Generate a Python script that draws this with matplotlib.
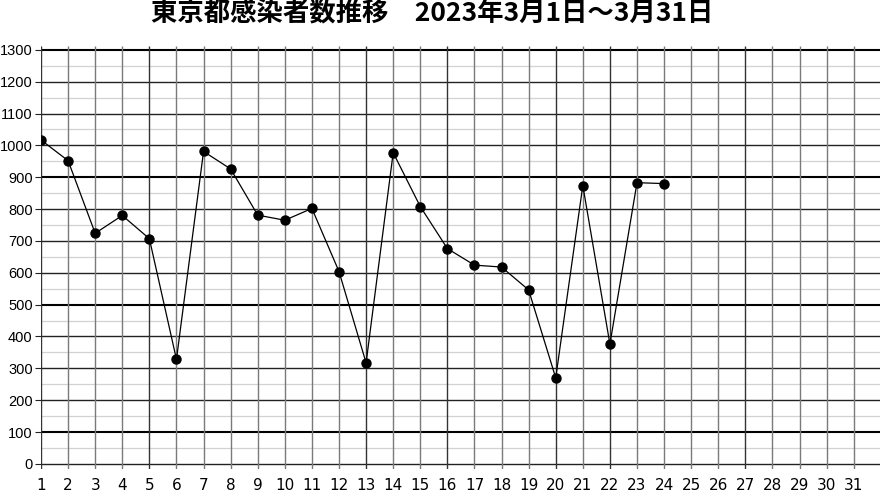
import numpy as np
import matplotlib
matplotlib.use("Agg")
import matplotlib.pyplot as plt

plt.rcParams['font.family'] = ['Noto Sans CJK JP', 'DejaVu Sans']

title = "東京都感染者数推移　2023年3月1日～3月31日"
days = list(range(1, 32))
day_labels = [str(d) for d in days]
obs_days = list(range(1, 25))
cases = [1017, 952, 724, 780, 707, 328, 981, 926, 781, 765, 802, 604,
         317, 977, 808, 676, 624, 618, 546, 270, 874, 376, 883, 880]
y_ticks = list(range(0, 1301, 100))

fig = plt.figure(figsize=(8.8, 4.95), dpi=100)
ax = fig.add_axes([0.0466, 0.052, 0.9534, 0.855])
ax.set_xlim(1, 31.97)
ax.set_ylim(-17, 1312)

#graph paper: horizontal lines
for v in range(0, 1301, 50):
    if v % 100:
        ax.hlines(v, 1, 32, color="#d2d2d2", lw=0.9, zorder=1)
    elif v % 400 == 100:
        ax.hlines(v, 1, 32, color="black", lw=1.5, zorder=1)
    else:
        ax.hlines(v, 1, 32, color="#222222", lw=1.0, zorder=1)

#vertical lines
dark = {1, 5, 13, 16, 20, 22, 27}
for d in days:
    c = "#333333" if d in dark else "#7a7a7a"
    ax.vlines(d, -17, 1312, color=c, lw=1.0, zorder=1)

ax.plot(obs_days, cases, color="black", lw=0.9, marker="o", ms=6.5, zorder=3)

for s in ax.spines.values():
    s.set_visible(False)
ax.set_yticks(y_ticks)
ax.set_yticklabels([str(v) for v in y_ticks], fontsize=10.5, family=["Liberation Sans", "DejaVu Sans"])
ax.tick_params(axis="y", length=4, pad=2, color="#222222")
ax.set_xticks(days)
ax.set_xticklabels(day_labels, fontsize=11, family=["Liberation Sans Narrow", "DejaVu Sans"])
ax.tick_params(axis="x", length=0, pad=6)

fig.text(0.491, 0.972, title, ha="center", va="center", fontsize=19, fontweight="bold")

fig.savefig("out.png", dpi=100)
